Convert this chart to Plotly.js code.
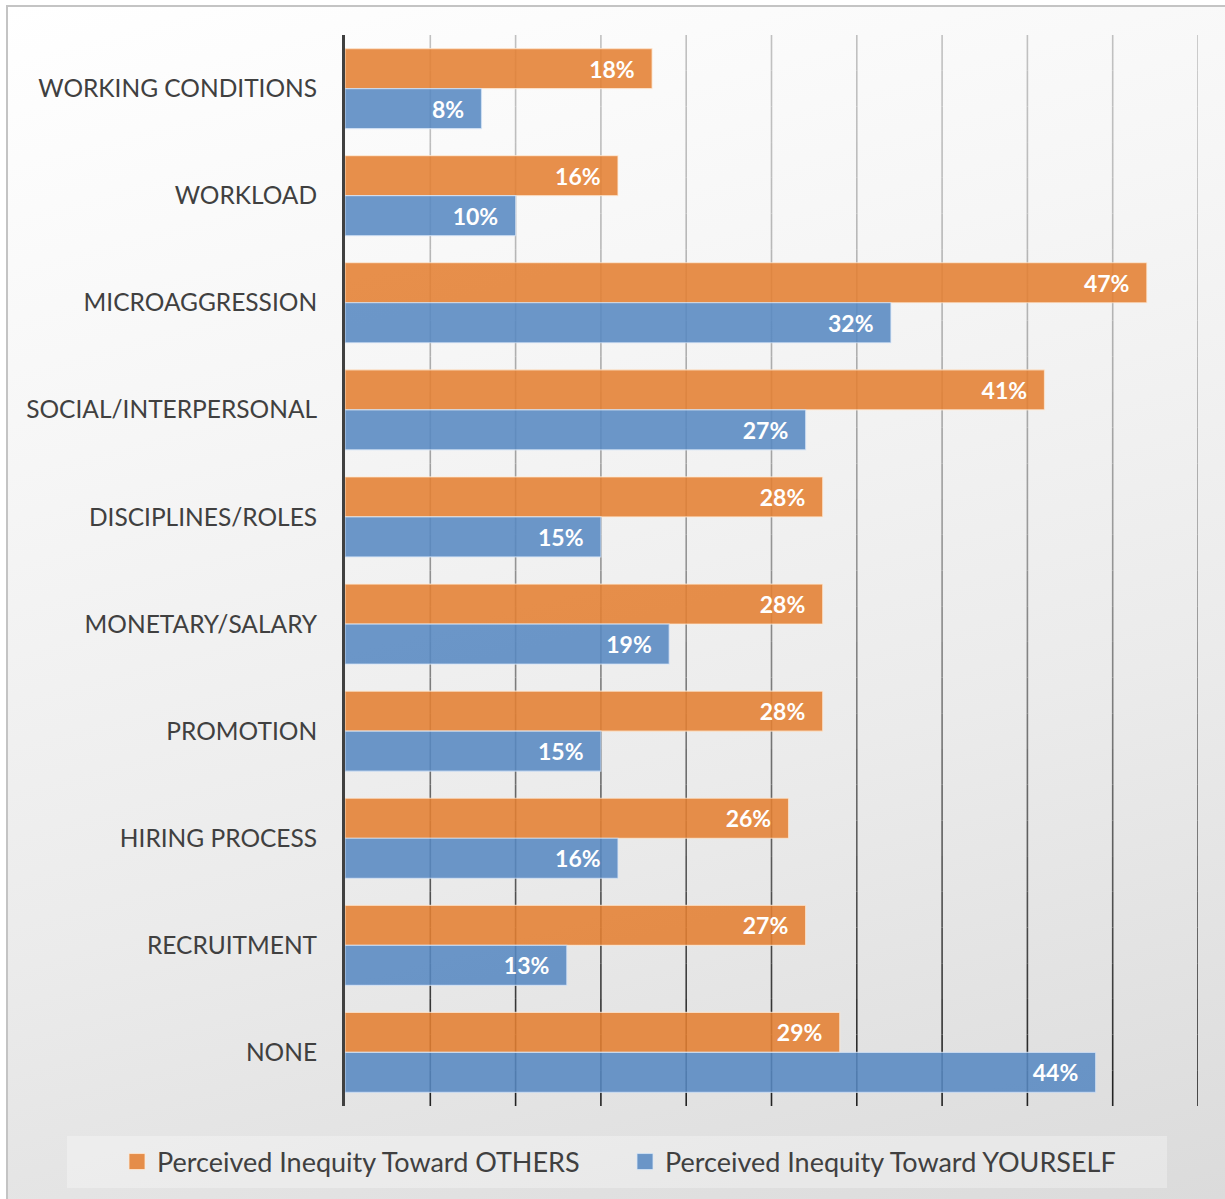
<!DOCTYPE html>
<html><head><meta charset="utf-8">
<script src="https://cdn.plot.ly/plotly-3.0.1.min.js"></script>
<style>
html,body{margin:0;padding:0;background:#fff;width:1225px;height:1199px;overflow:hidden}
#frame{position:absolute;left:6px;top:5px;width:1240px;height:1220px;border-left:2px solid #c4c4c4;border-top:2px solid #c4c4c4;background:linear-gradient(165deg,#ffffff 0%,#f6f6f6 30%,#ebebeb 62%,#dadada 100%);}
#chart{position:absolute;left:0;top:0;width:1225px;height:1199px}
</style></head><body>
<div id="frame"></div><div id="chart"></div>
<script>
const categories = ['WORKING CONDITIONS','WORKLOAD','MICROAGGRESSION','SOCIAL/INTERPERSONAL','DISCIPLINES/ROLES','MONETARY/SALARY','PROMOTION','HIRING PROCESS','RECRUITMENT','NONE'];
const others   = [18,16,47,41,28,28,28,26,27,29];
const yourself = [8,10,32,27,15,19,15,16,13,44];
const seriesNames = ['Perceived Inequity Toward OTHERS','Perceived Inequity Toward YOURSELF'];
const gridTicks = [5,10,15,20,25,30,35,40,45,50];

const orangeFill = 'rgba(228,128,50,0.88)';
const blueFill = 'rgba(88,137,194,0.88)';
const labelFont = {family:'Lato, "Open Sans", sans-serif', size:23, color:'#ffffff', weight:700};

const traces = [
  {type:'bar', orientation:'h', name:seriesNames[0], y:categories, x:others, showlegend:false,
   marker:{color:orangeFill, line:{color:'rgba(255,235,215,0.7)', width:1.2}},
   texttemplate:'%{x}%\u2002\u2009', textposition:'inside', insidetextanchor:'end', textangle:0,
   textfont:labelFont, hoverinfo:'skip'},
  {type:'bar', orientation:'h', name:seriesNames[1], y:categories, x:yourself, showlegend:false,
   marker:{color:blueFill, line:{color:'rgba(215,230,248,0.7)', width:1.2}},
   texttemplate:'%{x}%\u2002\u2009', textposition:'inside', insidetextanchor:'end', textangle:0,
   textfont:labelFont, hoverinfo:'skip'},
  // legend-only entries (bigger square swatches)
  {type:'scatter', mode:'markers', name:seriesNames[0], x:[null], y:[null], showlegend:true,
   marker:{symbol:'square', size:16, color:orangeFill, line:{color:'rgba(255,235,215,0.8)', width:1}}, hoverinfo:'skip'},
  {type:'scatter', mode:'markers', name:seriesNames[1], x:[null], y:[null], showlegend:true,
   marker:{symbol:'square', size:16, color:blueFill, line:{color:'rgba(215,230,248,0.8)', width:1}}, hoverinfo:'skip'}
];

// gradient gridlines (light at top, dark at bottom)
const shapes = [];
const N = 30;
gridTicks.forEach(t => {
  for (let i = 0; i < N; i++) {
    const fm = (i + 0.5) / N;
    const c = Math.round(192 - 162 * Math.pow(fm, 1.8));
    shapes.push({type:'line', xref:'x', yref:'paper', x0:t, x1:t, y0:1 - i / N, y1:1 - (i + 1) / N,
      line:{color:`rgb(${c},${c},${c})`, width:1.6}, layer:'below'});
  }
});
// legend background box
shapes.push({type:'rect', xref:'paper', yref:'paper', x0:(67-345)/853, x1:(1167-345)/853,
  y0:(1106-1188)/1071, y1:(1106-1136)/1071, fillcolor:'rgba(255,255,255,0.3)', line:{width:0}, layer:'below'});

const layout = {
  width:1225, height:1199,
  margin:{l:345, r:27, t:35, b:93, pad:0, autoexpand:false},
  paper_bgcolor:'rgba(0,0,0,0)', plot_bgcolor:'rgba(0,0,0,0)',
  barmode:'group', bargap:0.253, bargroupgap:0,
  xaxis:{range:[0,50], showgrid:false, zeroline:false, showticklabels:false, showline:false, ticks:'', fixedrange:true},
  yaxis:{type:'category', autorange:'reversed', showgrid:false, zeroline:false,
    showline:true, linecolor:'#404040', linewidth:3, ticks:'', ticklabelstandoff:20,
    tickfont:{family:'Lato, "Open Sans", sans-serif', size:24.5, color:'#404040'}, fixedrange:true},
  showlegend:true,
  legend:{orientation:'h', xref:'paper', yref:'paper', x:(117-345)/853, xanchor:'left',
    y:-(1162-1106)/1071, yanchor:'middle', bgcolor:'rgba(0,0,0,0)', entrywidth:463,
    font:{family:'Lato, "Open Sans", sans-serif', size:27, color:'#404040'}, itemclick:false, traceorder:'normal'},
  shapes:shapes
};

Plotly.newPlot('chart', traces, layout, {displayModeBar:false, staticPlot:true});
</script>
</body></html>
